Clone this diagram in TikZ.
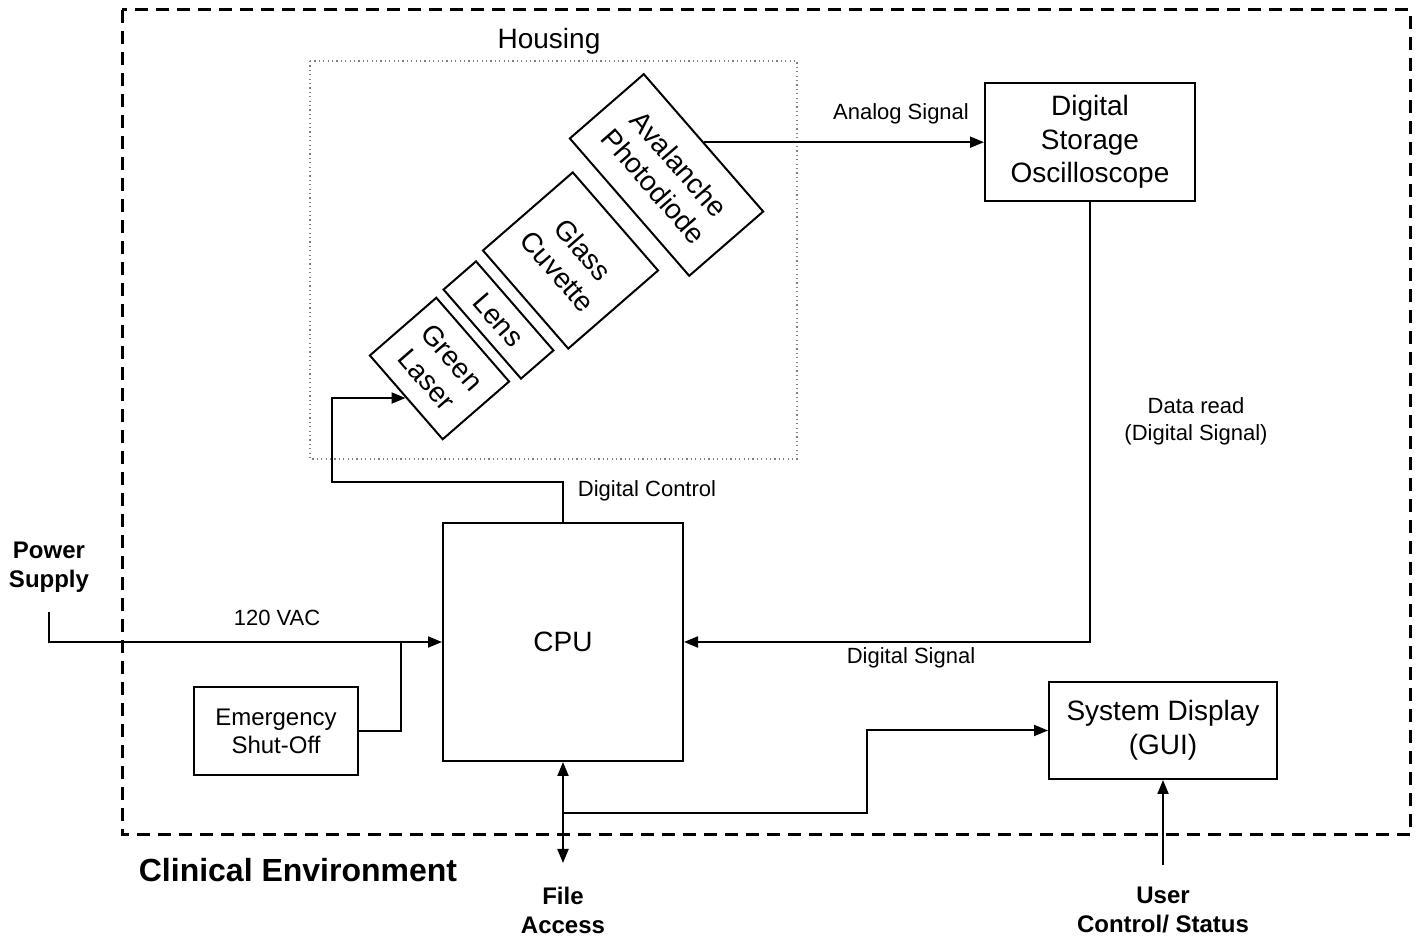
\documentclass[tikz,border=0pt]{standalone}
\usepackage{fontspec}
\setmainfont{Liberation Sans}
\usetikzlibrary{arrows.meta}
\newcommand\fxs{\fontsize{22}{27}\selectfont}
\newcommand\fmd{\fontsize{24}{28}\selectfont}
\newcommand\flg{\fontsize{28}{33.5}\selectfont}
\newcommand\fhg{\bfseries\fontsize{32}{36}\selectfont}
\newcommand\fbl{\bfseries\fontsize{24}{29}\selectfont}
\begin{document}
\begin{tikzpicture}[x=1pt,y=1pt,
  blk/.style={draw, line width=2pt, inner sep=0pt, align=center, font=\flg},
  rbox/.style={blk, rotate=-49},
  wire/.style={line width=2pt},
  arr/.style={wire, -{Triangle[length=14pt,width=11pt]}},
  darr/.style={wire, {Triangle[length=14pt,width=11pt]}-{Triangle[length=14pt,width=11pt]}},
  lbl/.style={inner sep=0pt, align=center, font=\fxs},
  blbl/.style={inner sep=0pt, align=center, font=\fbl}]
\useasboundingbox (0,0) rectangle (1416,936);
% environment and housing
\draw[line width=3pt, dash pattern=on 13pt off 8pt] (122,926) rectangle (1410,101);
\draw[gray, line width=1.2pt, dash pattern=on 1.2pt off 3.2pt] (310,875) rectangle (797,477);
\node[lbl, font=\flg] (housing) at (549,895) {Housing};
% blocks
\node[blk, minimum width=210pt, minimum height=118pt] (dso) at (1090,794) {Digital\\Storage\\Oscilloscope};
\node[blk, minimum width=240pt, minimum height=238pt] (cpu) at (563,294) {CPU};
\node[blk, font=\fmd, minimum width=164pt, minimum height=88pt] (emer) at (276,205) {Emergency\\Shut-Off};
\node[blk, minimum width=228pt, minimum height=97pt] (sys) at (1163,205.5) {System Display\\(GUI)};
% rotated optics
\node[rbox, minimum width=182pt, minimum height=98pt] (aval) at (666.5,761) {Avalanche\\Photodiode};
\node[rbox, minimum width=130pt, minimum height=119pt] (cuv) at (570.5,675.5) {Glass\\Cuvette};
\node[rbox, minimum width=118pt, minimum height=43pt] (lens) at (498.5,616) {Lens};
\node[rbox, minimum width=111pt, minimum height=88pt] (laser) at (439.5,567.5) {Green\\Laser};
% coordinates
\coordinate (c1) at (563,454);
\coordinate (c2) at (332,454);
\coordinate (ps) at (49,324);
\coordinate (j1) at (401,294);
\coordinate (fa) at (563,73);
\coordinate (b1) at (563,123);
\coordinate (b2) at (867,123);
\coordinate (uc) at (1163,71);
% connectors
\draw[arr] (aval.north) -- (aval.north -| dso.west);
\draw[arr] (dso.south) |- (cpu.east);
\draw[arr] (cpu.north) -- (c1) -- (c2) -- (c2 |- laser.south) -- (laser.south);
\draw[arr] (ps) |- (cpu.west);
\draw[wire] (emer.east) -| (j1);
\draw[darr] (cpu.south) -- (fa);
\draw[arr] (b1) -- (b2) |- (sys.west);
\draw[arr] (uc) -- (sys.south);
% labels
\node[lbl] (lanalog) at (901,822) {Analog Signal};
\node[lbl] (ldata) at (1196,515) {Data read\\(Digital Signal)};
\node[lbl] (ldsig) at (911,278) {Digital Signal};
\node[lbl] (ldctl) at (647,445) {Digital Control};
\node[lbl] (lvac) at (277,318) {120 VAC};
\node[blbl] (lpower) at (49,369) {Power\\Supply};
\node[blbl, font=\fhg] (lclin) at (298,66) {Clinical Environment};
\node[blbl] (lfile) at (563,26) {File\\Access};
\node[blbl] (luser) at (1163,26) {User\\Control/ Status};
\end{tikzpicture}
\end{document}
